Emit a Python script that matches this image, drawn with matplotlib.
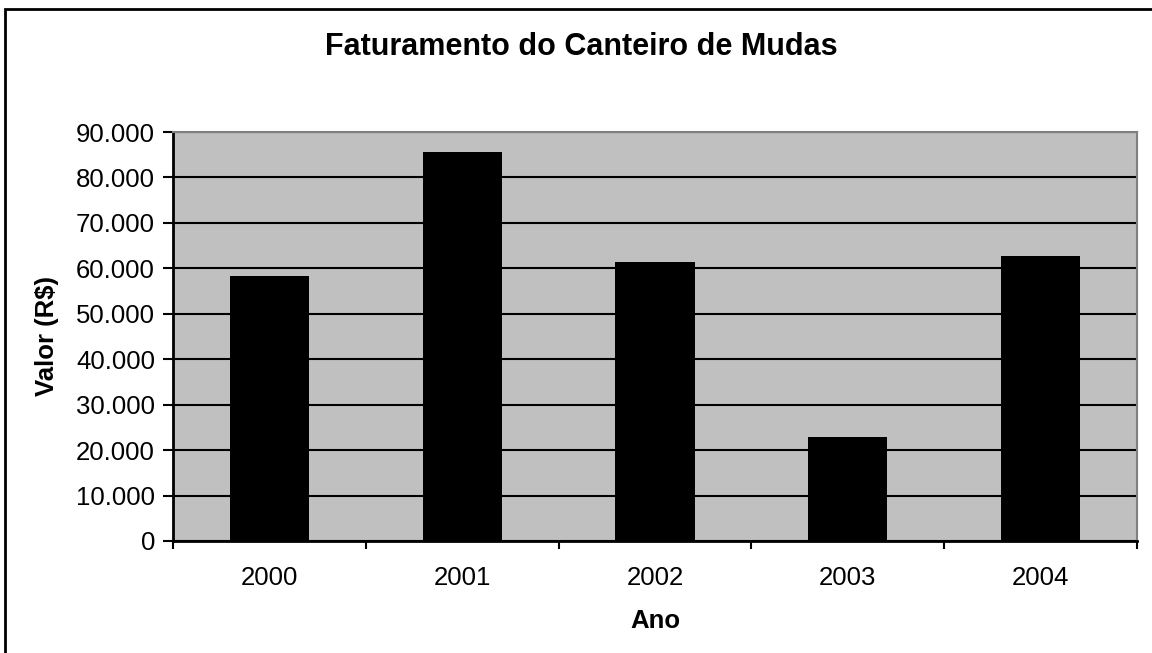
import matplotlib
matplotlib.use('Agg')
from matplotlib import pyplot as plt
from matplotlib.patches import Rectangle
from matplotlib.ticker import FuncFormatter
import numpy as np

anos = ['2000', '2001', '2002', '2003', '2004']
valores = [58300, 85600, 61500, 22800, 62800]

plt.rcParams['font.family'] = ['Liberation Sans', 'DejaVu Sans']

W, H = 1152, 653
fig = plt.figure(figsize=(W / 100, H / 100), dpi=100)
ax = fig.add_axes([173 / W, 1 - 541 / H, (1137 - 173) / W, (541 - 132) / H])

x = np.arange(len(anos))
ax.bar(x, valores, width=0.41, color='black', zorder=3)

ax.set_facecolor('#c0c0c0')
ax.set_xlim(-0.5, len(anos) - 0.5)
ax.set_ylim(0, 90000)
ax.set_yticks(np.arange(0, 90001, 10000))
ax.yaxis.set_major_formatter(FuncFormatter(lambda v, p: f'{int(v):,}'.replace(',', '.')))
ax.grid(axis='y', color='black', linewidth=1.5, zorder=1)

# year labels centred, ticks at category boundaries
ax.set_xticks(x)
ax.set_xticklabels(anos)
ax.tick_params(axis='x', which='major', length=0, pad=18, labelsize=18.5)
ax.set_xticks(np.arange(-0.5, len(anos)), minor=True)
ax.tick_params(axis='x', which='minor', length=6, width=1.5, direction='out')
ax.tick_params(axis='y', length=7, width=1.5, direction='out', labelsize=18.5, pad=6)

for s in ['left', 'bottom']:
    ax.spines[s].set_color('black')
    ax.spines[s].set_linewidth(2)
for s in ['top', 'right']:
    ax.spines[s].set_color('#808080')
    ax.spines[s].set_linewidth(1.5)

ax.set_xlabel('Ano', fontsize=18.5, fontweight='bold', labelpad=14)
ax.set_ylabel('Valor (R$)', fontsize=18.5, fontweight='bold', labelpad=12)
fig.text(581 / W, 1 - 47 / H, 'Faturamento do Canteiro de Mudas', ha='center', va='center',
         fontsize=22, fontweight='bold')

# chart border
fig.patches.append(Rectangle((5 / W, -0.05), 1.1, 1 - 9 / H + 0.05, transform=fig.transFigure,
                             fill=False, edgecolor='black', linewidth=2))

fig.savefig('out.png', dpi=100)
